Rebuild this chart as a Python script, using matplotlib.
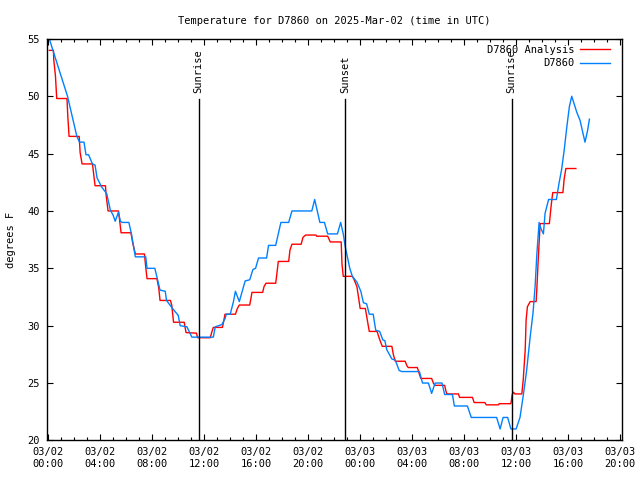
import datetime as dt
import matplotlib
matplotlib.use("Agg")
import matplotlib.pyplot as plt
import matplotlib.dates as mdates

# hours after 2025-03-02 00:00 UTC
station_hours = [0.08, 0.75, 1.48, 2.2, 2.4, 2.75, 2.9, 3.1, 3.4, 3.6, 3.75, 4.1, 4.5, 4.77,
                 5.0, 5.15, 5.4, 5.55, 5.7, 6.2, 6.4, 6.7, 7.5, 7.6, 8.2, 8.6, 9.0, 9.1, 9.56,
                 10.0, 10.15, 10.67, 11.05, 12.7, 12.85, 13.36, 13.6, 13.7, 14.0, 14.25, 14.4,
                 14.7, 15.15, 15.5, 15.75, 15.95, 16.18, 16.8, 16.95, 17.5, 17.9, 18.5, 18.75,
                 20.28, 20.5, 20.9, 21.25, 21.5, 22.25, 22.5, 22.7, 22.85, 23.2, 23.4, 23.75,
                 24.05, 24.25, 24.5, 24.7, 25.0, 25.2, 25.5, 25.75, 25.9, 26.05, 26.44, 26.7,
                 27.0, 27.2, 28.56, 28.8, 29.25, 29.5, 29.77, 30.3, 30.5, 31.1, 31.25, 32.25,
                 32.55, 34.5, 34.77, 35.0, 35.35, 35.6, 36.0, 36.3, 36.56, 36.8, 37.08, 37.3,
                 37.46, 37.6, 37.77, 37.9, 38.1, 38.23, 38.5, 39.1, 39.3, 39.5, 39.7, 39.9,
                 40.1, 40.28, 40.67, 40.92, 41.3, 41.5, 41.64]
station_temp = [55.0, 52.6, 50.0, 46.5, 46.0, 46.0, 44.9, 44.9, 44.1, 44.0, 42.9, 42.1, 41.5, 40.1,
                39.6, 39.1, 39.9, 39.1, 39.0, 39.0, 38.0, 36.0, 36.0, 35.0, 35.0, 33.1, 33.0, 32.2, 31.5,
                30.9, 30.0, 29.9, 29.0, 29.0, 29.9, 30.1, 30.6, 31.0, 31.0, 32.1, 33.0,
                32.1, 33.9, 34.0, 34.9, 35.0, 35.9, 35.9, 37.0, 37.0, 39.0, 39.0, 40.0,
                40.0, 41.0, 39.0, 39.0, 38.0, 38.0, 39.0, 38.0, 36.9, 35.0, 34.3, 33.8,
                33.0, 32.0, 31.9, 31.0, 31.0, 29.6, 29.5, 28.75, 28.7, 27.9, 27.1, 27.0,
                26.1, 26.0, 26.0, 25.0, 25.0, 24.1, 25.0, 25.0, 24.0, 24.0, 23.0, 23.0,
                22.0, 22.0, 21.0, 22.0, 22.0, 21.0, 21.0, 22.0, 24.0, 26.0, 29.0, 31.1,
                33.4, 36.3, 39.0, 38.5, 38.0, 39.8, 41.0, 41.0, 42.4, 43.6, 45.3, 47.3,
                49.1, 50.0, 48.6, 47.9, 46.0, 47.0, 48.0]

analysis_hours = [0.08, 0.4, 0.42, 0.55, 0.65, 1.44, 1.5, 1.6, 2.38, 2.45, 2.6, 3.4, 3.6, 4.4,
                  4.45, 4.6, 5.4, 5.5, 5.6, 6.36, 6.5, 6.7, 7.4, 7.5, 7.6, 8.36, 8.5, 8.6, 9.4,
                  9.5, 9.64, 10.46, 10.6, 11.4, 11.5, 12.46, 12.6, 12.7, 13.4, 13.5, 13.6, 14.4,
                  14.55, 14.7, 15.5, 15.6, 15.67, 16.5, 16.6, 16.75, 17.5, 17.6, 17.7, 18.5,
                  18.6, 18.75, 19.46, 19.6, 19.8, 20.6, 20.65, 21.5, 21.7, 22.54, 22.6, 22.7,
                  23.4, 23.5, 23.75, 23.87, 24.0, 24.4, 24.55, 24.7, 25.3, 25.5, 25.7, 26.44,
                  26.55, 26.7, 27.46, 27.6, 27.7, 28.4, 28.55, 28.67, 29.5, 29.65, 29.77, 30.5,
                  30.6, 30.67, 31.56, 31.65, 32.64, 32.77, 33.6, 33.7, 34.64, 34.7, 35.6, 35.7,
                  35.8, 35.9, 36.44, 36.55, 36.7, 36.77, 36.87, 37.08, 37.54, 37.6, 37.7, 37.85,
                  38.56, 38.7, 38.82, 39.6, 39.7, 39.83, 40.6]
analysis_temp = [54.0, 54.0, 53.2, 51.8, 49.8, 49.8, 48.3, 46.5, 46.5, 45.1, 44.1, 44.1, 42.2, 42.2,
                 41.4, 40.0, 40.0, 39.1, 38.1, 38.1, 37.2, 36.25, 36.25, 35.1, 34.1, 34.1, 33.3, 32.2, 32.2,
                 31.8, 30.3, 30.3, 29.4, 29.35, 28.95, 28.95, 29.5, 29.85, 29.85, 30.4, 31.0, 31.0,
                 31.5, 31.8, 31.8, 32.4, 32.9, 32.9, 33.4, 33.7, 33.7, 34.6, 35.6, 35.6,
                 36.6, 37.1, 37.1, 37.7, 37.9, 37.9, 37.8, 37.8, 37.3, 37.3, 35.4, 34.3,
                 34.3, 34.1, 33.4, 32.5, 31.5, 31.5, 30.5, 29.5, 29.5, 28.8, 28.2, 28.2,
                 27.5, 26.9, 26.9, 26.5, 26.35, 26.35, 25.8, 25.4, 25.4, 24.95, 24.8, 24.8,
                 24.3, 24.05, 24.05, 23.75, 23.75, 23.3, 23.3, 23.1, 23.1, 23.2, 23.2, 24.0,
                 24.2, 24.05, 24.05, 25.3, 27.9, 30.5, 31.65, 32.1, 32.1, 33.3, 35.7, 38.9,
                 38.9, 40.5, 41.6, 41.6, 42.8, 43.7, 43.7]

sun_events = ["Sunrise", "Sunset", "Sunrise"]
sun_hours = [11.57, 22.87, 35.65]

start = dt.datetime(2025, 3, 2)
def to_time(hours):
    return [start + dt.timedelta(hours=h) for h in hours]

plt.rcParams["font.family"] = "DejaVu Sans Mono"
plt.rcParams["font.size"] = 7

fig = plt.figure(figsize=(6.4, 4.8), dpi=100)
ax = fig.add_axes([0.0734, 0.0825, 0.8985, 0.8365])

ax.plot(to_time(analysis_hours), analysis_temp, color="#ff0000", lw=1.0, label="D7860 Analysis")
ax.plot(to_time(station_hours), station_temp, color="#0080ff", lw=1.0, label="D7860")

for name, t in zip(sun_events, to_time(sun_hours)):
    ax.plot([t, t], [20, 49.8], color="black", lw=1.0)
    ax.text(t, 50.3, name, rotation=90, ha="center", va="bottom", fontsize=7.5)

ax.set_xlim(start - dt.timedelta(hours=0.1), start + dt.timedelta(hours=44.15))
ax.set_ylim(20, 55)
ax.set_yticks(range(20, 56, 5))
ax.xaxis.set_major_locator(mdates.HourLocator(byhour=range(0, 24, 4)))
ax.xaxis.set_minor_locator(mdates.HourLocator())
ax.xaxis.set_major_formatter(mdates.DateFormatter("%m/%d\n%H:%M"))
ax.tick_params(which="both", direction="in", top=True, right=True, width=0.8)
ax.tick_params(which="major", length=4, pad=5, labelsize=7.5)
ax.tick_params(which="minor", length=2.2)
for sp in ax.spines.values():
    sp.set_linewidth(1.0)

ax.set_ylabel("degrees F", fontsize=7.5, labelpad=8)
fig.text(0.522, 0.956, "Temperature for D7860 on 2025-Mar-02 (time in UTC)",
         ha="center", va="center", fontsize=7.5)

ax.legend(loc="upper right", bbox_to_anchor=(0.986, 0.996), frameon=False,
          markerfirst=False, fontsize=7.5, handlelength=2.9, handletextpad=0.5,
          labelspacing=0.35, borderaxespad=0.2, borderpad=0.2)

fig.savefig("out.png", dpi=100)
